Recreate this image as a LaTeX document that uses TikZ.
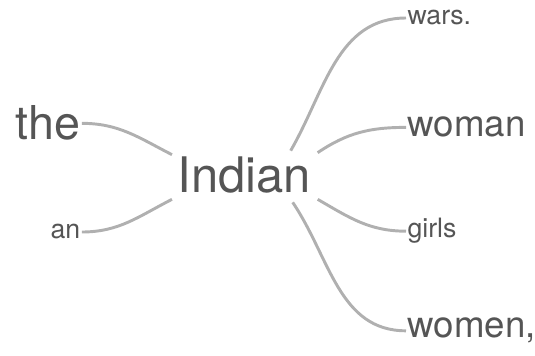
\documentclass[tikz,border=0pt]{standalone}
\usepackage{fontspec}
\setmainfont{TeX Gyre Heros}
\usetikzlibrary{positioning}
\definecolor{wordgray}{HTML}{555555}
\definecolor{linkgray}{HTML}{B0B0B0}
\tikzset{word/.style={text=wordgray,inner sep=1pt,anchor=base west},
  link/.style={draw=linkgray,line width=2.2pt}}
\newcommand{\wsize}[1]{\fontsize{#1}{#1}\selectfont}

\begin{document}
\begin{tikzpicture}[x=0.75pt,y=0.75pt,line join=round]
\useasboundingbox (0,0) rectangle (535,356);
% --- root word and the words before it
\node[word,font=\wsize{36.75}] (indian) at (176,163) {Indian};
\node[word,font=\wsize{35}] (the) at (14,216) {the};
\node[word,font=\wsize{20}] (an) at (49,117) {an};
\draw[link] (the.east) to[out=0,in=153] ([shift={(-4,1)}]indian.north west);
\draw[link] (an.east) to[out=0,in=207] ([shift={(-4,-4)}]indian.south west);
% --- words after it
\node[word,font=\wsize{20}] (wars) at (406,331) {wars.};
\node[word,font=\wsize{27.5}] (woman) at (406,219) {woman};
\node[word,font=\wsize{20}] (girls) at (406,118) {girls};
\node[word,font=\wsize{27.5}] (women) at (406,18) {women,};
\draw[link] ([shift={(-22,5)}]indian.north east) to[out=60,in=180] (wars.west);
\draw[link] ([shift={(5,3)}]indian.north east) to[out=34,in=180] (woman.west);
\draw[link] ([shift={(5,-4)}]indian.south east) to[out=-30,in=180] (girls.west);
\draw[link] ([shift={(-20,-7)}]indian.south east) to[out=-56,in=180] (women.west);
\end{tikzpicture}
\end{document}
